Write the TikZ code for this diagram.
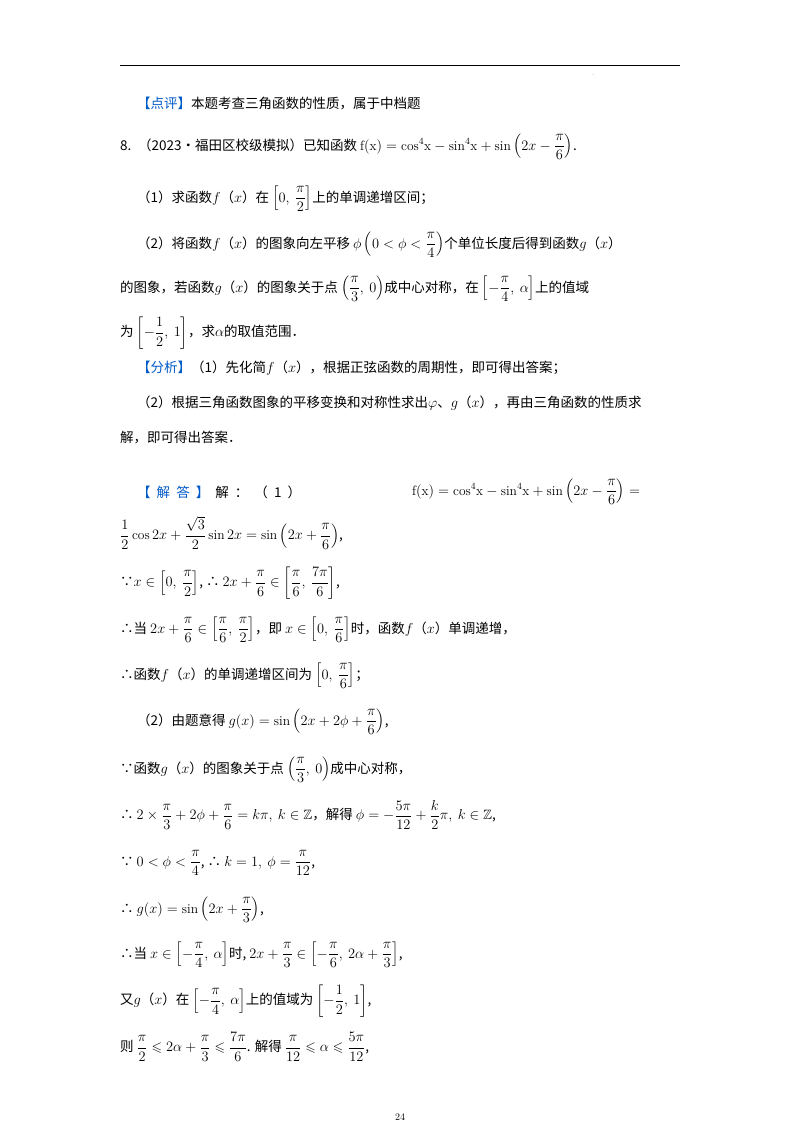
\documentclass[tikz,border=0pt]{standalone}
\usepackage{amsmath,amssymb}
\usepackage{fontspec}
\newfontfamily\cjk{Noto Sans CJK SC}
\definecolor{tagblue}{RGB}{0,90,200}
\begin{document}
\begin{tikzpicture}[x=1pt,y=-1pt,
  txt/.style={anchor=west,inner sep=0pt,font=\cjk\fontsize{13.5}{15}\selectfont},
  tag/.style={text=tagblue}]
\useasboundingbox[fill=white] (0,0) rectangle (800,1132);
\draw[line width=0.8pt] (120,65) -- (680,65);
\node[inner sep=0pt,font=\tiny] (dot) at (593,75) {.};
\node[txt] (l1) at (137,104) {\textcolor{tagblue}{【点评】}本题考查三角函数的性质，属于中档题};
\node[txt] (l2) at (120,147) {8.\enspace（2023•福田区校级模拟）已知函数 $\mathrm{f(x)=cos^4x-sin^4x+sin}\left(2x-\dfrac{\pi}{6}\right)$.};
\node[txt] (l3) at (137,199) {（1）求函数$f$（$x$）在 $\left[0,\ \dfrac{\pi}{2}\right]$上的单调递增区间；};
\node[txt] (l4) at (137,245) {（2）将函数$f$（$x$）的图象向左平移 $\phi\left(0<\phi<\dfrac{\pi}{4}\right)$个单位长度后得到函数$g$（$x$）};
\node[txt] (l5) at (120,289) {的图象，若函数$g$（$x$）的图象关于点 $\left(\dfrac{\pi}{3},\ 0\right)$成中心对称，在 $\left[-\dfrac{\pi}{4},\ \alpha\right]$上的值域};
\node[txt] (l6) at (120,333) {为 $\left[-\dfrac{1}{2},\ 1\right]$，求$\alpha$的取值范围．};
\node[txt] (l7) at (137,368) {\textcolor{tagblue}{【分析】}（1）先化简$f$（$x$），根据正弦函数的周期性，即可得出答案；};
\node[txt] (l8) at (137,403) {（2）根据三角函数图象的平移变换和对称性求出$\varphi$、$g$（$x$），再由三角函数的性质求};
\node[txt] (l9) at (120,438) {解，即可得出答案．};
\node[txt] (l10) at (137,492) {\textcolor{tagblue}{【\ \ 解\ \ 答\ \ 】}\ \ 解\ \ ：\ \ （\ \ 1\ \ ）};
\node[txt] (l10b) at (412,492) {$\mathrm{f(x)=cos^4x-sin^4x+sin}\left(2x-\dfrac{\pi}{6}\right)=$};
\node[txt] (l11) at (120,533) {$\dfrac12\cos2x+\dfrac{\sqrt3}{2}\sin2x=\sin\left(2x+\dfrac{\pi}{6}\right)$,};
\node[txt] (l12) at (120,583) {∵$x\in\left[0,\ \dfrac{\pi}{2}\right]$, ∴ $2x+\dfrac{\pi}{6}\in\left[\dfrac{\pi}{6},\ \dfrac{7\pi}{6}\right]$,};
\node[txt] (l13) at (120,630) {∴当 $2x+\dfrac{\pi}{6}\in\left[\dfrac{\pi}{6},\ \dfrac{\pi}{2}\right]$，即 $x\in\left[0,\ \dfrac{\pi}{6}\right]$时，函数$f$（$x$）单调递增，};
\node[txt] (l14) at (120,676) {∴函数$f$（$x$）的单调递增区间为 $\left[0,\ \dfrac{\pi}{6}\right]$；};
\node[txt] (l15) at (137,722) {（2）由题意得 $g(x)=\sin\left(2x+2\phi+\dfrac{\pi}{6}\right)$,};
\node[txt] (l16) at (120,770) {∵函数$g$（$x$）的图象关于点 $\left(\dfrac{\pi}{3},\ 0\right)$成中心对称，};
\node[txt] (l17) at (120,815) {∴ $2\times\dfrac{\pi}{3}+2\phi+\dfrac{\pi}{6}=k\pi,\ k\in\mathbb{Z}$，解得 $\phi=-\dfrac{5\pi}{12}+\dfrac{k}{2}\pi,\ k\in\mathbb{Z}$,};
\node[txt] (l18) at (120,863) {∵ $0<\phi<\dfrac{\pi}{4}$, ∴ $k=1,\ \phi=\dfrac{\pi}{12}$,};
\node[txt] (l19) at (120,910) {∴ $g(x)=\sin\left(2x+\dfrac{\pi}{3}\right)$,};
\node[txt] (l20) at (120,955) {∴当 $x\in\left[-\dfrac{\pi}{4},\ \alpha\right]$时, $2x+\dfrac{\pi}{3}\in\left[-\dfrac{\pi}{6},\ 2\alpha+\dfrac{\pi}{3}\right]$,};
\node[txt] (l21) at (120,1001) {又$g$（$x$）在 $\left[-\dfrac{\pi}{4},\ \alpha\right]$上的值域为 $\left[-\dfrac12,\ 1\right]$,};
\node[txt] (l22) at (120,1047) {则 $\dfrac{\pi}{2}\leqslant2\alpha+\dfrac{\pi}{3}\leqslant\dfrac{7\pi}{6}$. 解得 $\dfrac{\pi}{12}\leqslant\alpha\leqslant\dfrac{5\pi}{12}$,};
\node[inner sep=0pt,font=\fontsize{10}{12}\selectfont] (pg) at (400,1117) {24};
\end{tikzpicture}
\end{document}
